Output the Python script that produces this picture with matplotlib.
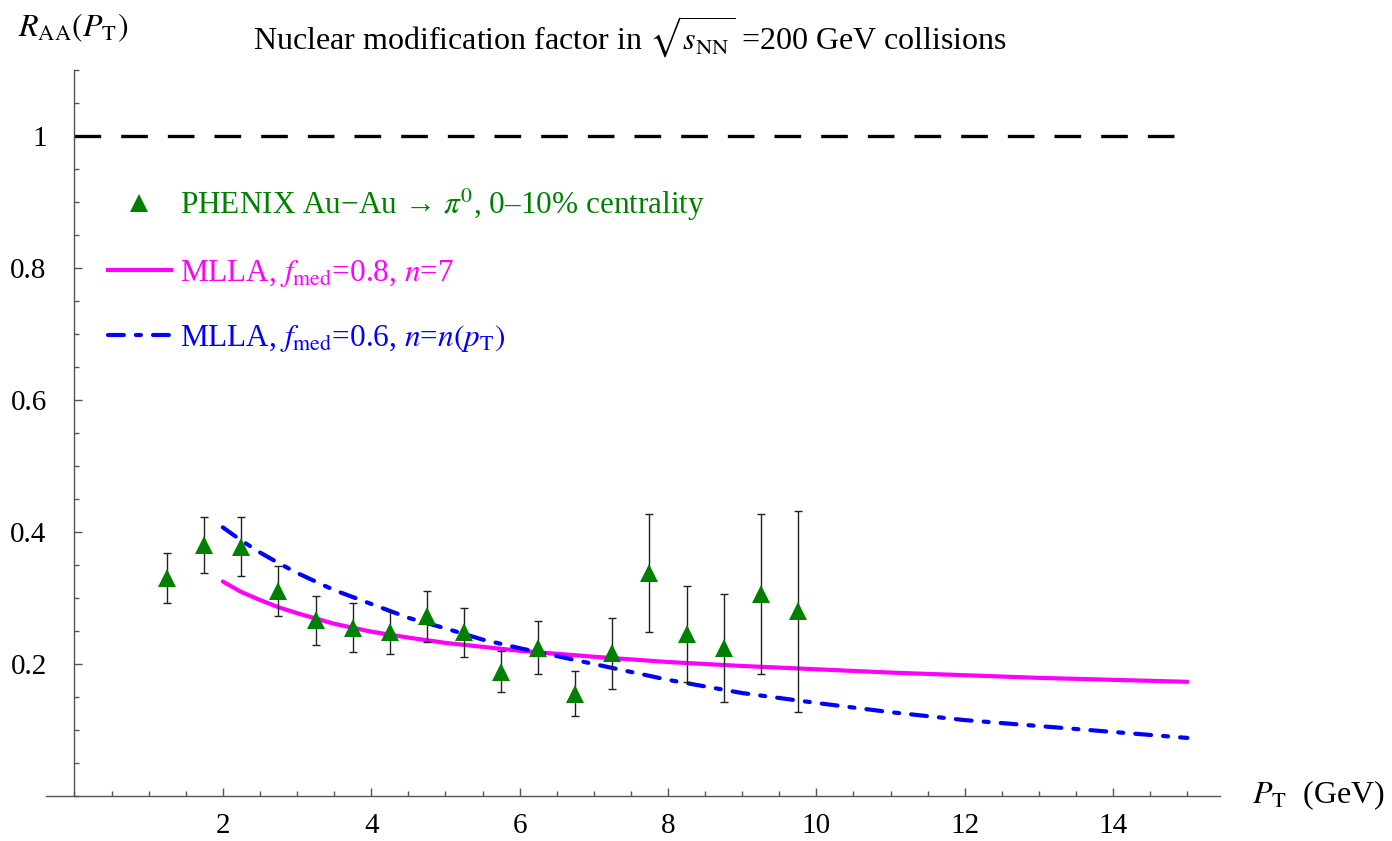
import numpy as np
import matplotlib
matplotlib.use('Agg')
import matplotlib.pyplot as plt
from matplotlib.ticker import FixedLocator, MultipleLocator
from matplotlib.lines import Line2D

# PHENIX Au-Au -> pi0, 0-10% centrality
pt_data = [1.25, 1.75, 2.25, 2.75, 3.25, 3.75, 4.25, 4.75, 5.25,
           5.75, 6.25, 6.75, 7.25, 7.75, 8.25, 8.75, 9.25, 9.75]
raa_data = [0.330, 0.380, 0.378, 0.310, 0.266, 0.255, 0.248, 0.272, 0.248,
            0.188, 0.225, 0.155, 0.216, 0.338, 0.245, 0.224, 0.306, 0.280]
raa_err = [0.038, 0.042, 0.044, 0.038, 0.037, 0.037, 0.033, 0.038, 0.037,
           0.031, 0.040, 0.034, 0.054, 0.090, 0.073, 0.082, 0.121, 0.152]

# MLLA curves
curve_pt = [2, 2.25, 2.5, 2.75, 3, 3.5, 4, 4.5, 5, 5.5, 6, 7, 8, 9, 10, 11, 12, 13, 14, 15]
mlla_f08 = [0.325, 0.309, 0.297, 0.286, 0.277, 0.261, 0.249, 0.240, 0.232, 0.226,
            0.220, 0.211, 0.203, 0.197, 0.192, 0.187, 0.183, 0.179, 0.176, 0.173]
mlla_f06 = [0.407, 0.387, 0.369, 0.353, 0.338, 0.312, 0.291, 0.270, 0.254, 0.237,
            0.224, 0.200, 0.176, 0.156, 0.141, 0.127, 0.115, 0.106, 0.097, 0.088]

x_major = [2, 4, 6, 8, 10, 12, 14]
y_major = [0.2, 0.4, 0.6, 0.8, 1.0]
y_labels = ["0.2", "0.4", "0.6", "0.8", "1"]

green = '#008000'
magenta = '#ff00ff'
blue = '#0000ff'
axis_col = '#555555'

plt.rcParams['font.family'] = ['Liberation Serif', 'DejaVu Serif']
plt.rcParams['mathtext.fontset'] = 'stix'
fs = 23
tick_fs = 21
leg_fs = 22.5

fig = plt.figure(figsize=(13.92, 8.41), dpi=100)
ax = fig.add_axes([45.5 / 1392, 1 - 796 / 841, (1220 - 45.5) / 1392, (796 - 70) / 841])

ax.set_xlim(-0.39, 15.44)
ax.set_ylim(0, 1.1)

# reference line at R_AA = 1
ax.hlines(1.0, 0, 15, colors='black', linewidth=2.4, linestyles=(0, (8, 6)))

blue_dash = (3.8, 2.9, 1.2, 2.9)
ax.plot(curve_pt, mlla_f08, color=magenta, linewidth=3.0, solid_capstyle='round', zorder=2)
ax.plot(curve_pt, mlla_f06, color=blue, linewidth=3.0, dashes=blue_dash,
        dash_capstyle='round', zorder=2)

ax.errorbar(pt_data, raa_data, yerr=raa_err, fmt='none', ecolor='#222222',
            elinewidth=1.0, capsize=3, capthick=1.0, zorder=3)
ax.plot(pt_data, raa_data, linestyle='none', marker='^', markersize=13,
        color=green, markeredgewidth=0, zorder=4)

# axes styling, Mathematica-like
for side in ['top', 'right']:
    ax.spines[side].set_visible(False)
ax.spines['left'].set_position(('data', 0))
ax.spines['bottom'].set_position(('data', 0))
for side in ['left', 'bottom']:
    ax.spines[side].set_color(axis_col)
    ax.spines[side].set_linewidth(1.0)

ax.xaxis.set_major_locator(FixedLocator(x_major))
ax.xaxis.set_minor_locator(MultipleLocator(0.5))
ax.yaxis.set_major_locator(FixedLocator(y_major))
ax.set_yticklabels(y_labels)
ax.yaxis.set_minor_locator(MultipleLocator(0.05))
ax.tick_params(which='both', direction='in', color=axis_col, width=1.0)
ax.tick_params(which='major', length=5.5)
ax.tick_params(which='minor', length=3.5)
ax.tick_params(axis='x', which='major', labelsize=tick_fs, pad=12)
ax.tick_params(axis='y', which='major', labelsize=tick_fs, pad=20)

fig.text(630 / 1392, 1 - 37 / 841,
         r"Nuclear modification factor in $\sqrt{s_{\mathrm{NN}}}$ =200 GeV collisions",
         ha='center', va='center', fontsize=fs)
fig.text(18 / 1392, 1 - 28 / 841, r"$R_{\mathrm{AA}}(P_{\mathrm{T}})$",
         ha='left', va='center', fontsize=fs)
fig.text(1252 / 1392, 1 - 795 / 841, r"$P_{\mathrm{T}}$  (GeV)",
         ha='left', va='center', fontsize=fs)

handles = [
    Line2D([], [], linestyle='none', marker='^', markersize=13, color=green, markeredgewidth=0),
    Line2D([], [], color=magenta, linewidth=3.0),
    Line2D([], [], color=blue, linewidth=3.0, dashes=blue_dash, dash_capstyle='round'),
]
labels = [
    "PHENIX Au\u2212Au \u2192 $\\pi^0$, 0\u201310% centrality",
    r"MLLA, $f_{\mathrm{med}}$=0.8, $n$=7",
    r"MLLA, $f_{\mathrm{med}}$=0.6, $n$=$n(p_{\mathrm{T}})$",
]
leg = ax.legend(handles, labels, loc='upper left', bbox_to_anchor=(108 / 1392, 1 - 187 / 841),
                bbox_transform=fig.transFigure, frameon=False, fontsize=leg_fs,
                borderpad=0, borderaxespad=0, handlelength=2.0, handletextpad=0.3,
                labelspacing=1.1)
for txt, col in zip(leg.get_texts(), [green, magenta, blue]):
    txt.set_color(col)

fig.savefig('out.png', dpi=100)
